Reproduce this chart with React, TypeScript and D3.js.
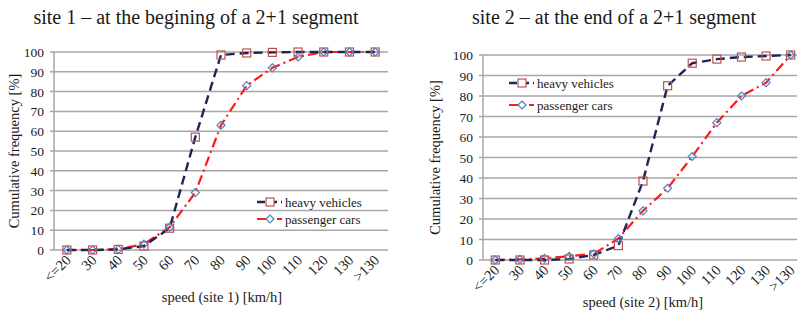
import React from "react";
import * as d3 from "d3";

const categories = ["<=20", "30", "40", "50", "60", "70", "80", "90", "100", "110", "120", "130", ">130"];
const yTicks = [0, 10, 20, 30, 40, 50, 60, 70, 80, 90, 100];

const site1Heavy = [0, 0, 0.3, 2, 11, 57, 98.5, 99.5, 99.8, 100, 100, 100, 100];
const site1Cars = [0, 0, 0.3, 3, 11.5, 29, 63, 83, 92, 97.5, 100, 100, 100];
const site2Heavy = [0, 0, 0, 0.5, 2.5, 7, 38.5, 85, 96, 98, 99, 99.5, 100];
const site2Cars = [0, 0.3, 0.8, 1.8, 3, 10.5, 24, 35, 50.5, 67, 80, 86.5, 100];

const seriesNames = ["heavy vehicles", "passenger cars"];
const titles = ["site 1 – at the begining of a 2+1 segment", "site 2 – at the end of a 2+1 segment"];
const xTitles = ["speed (site 1) [km/h]", "speed (site 2) [km/h]"];
const yTitle = "Cumulative frequency [%]";

const FONT = "Liberation Serif, DejaVu Serif, serif";
const HEAVY = "#1c2557";
const CARS = "#ff1a1a";
const SQ = "#c0504d";
const DIA = "#4f81bd";
const GRID = "#a6a6a6";

type PanelProps = {
  x0: number; x1: number; yTop: number; yBot: number;
  heavy: number[]; cars: number[];
  title: string; titleX: number; titleY: number;
  xTitle: string; xTitleX: number; xTitleY: number;
  yTitleX: number;
  legendX: number; legendY: number; legendGap: number;
};

function Panel(p: PanelProps) {
  const x = d3.scaleBand<string>().domain(categories).range([p.x0, p.x1]);
  const y = d3.scaleLinear().domain([0, 100]).range([p.yBot, p.yTop]);
  const cx = (c: string) => (x(c) ?? 0) + x.bandwidth() / 2;
  const line = d3.line<number>().x((_, i) => cx(categories[i])).y((d) => y(d));
  const sq = 8;
  const diamond = (px: number, py: number) => {
    const r = 4;
    return `M${px},${py - r}L${px + r},${py}L${px},${py + r}L${px - r},${py}Z`;
  };
  const g2 = p.legendY + p.legendGap;
  return (
    <g style={{ fontFamily: FONT }} fill="#1a1a1a">
      <text x={p.titleX} y={p.titleY} fontSize={20} textAnchor="middle">{p.title}</text>
      {yTicks.map((t) => (
        <g key={t}>
          <line x1={p.x0 - 4} x2={p.x1} y1={y(t)} y2={y(t)} stroke={GRID} strokeWidth={1.5} />
          <text x={p.x0 - 10} y={y(t) + 5} fontSize={13.5} textAnchor="end">{t}</text>
        </g>
      ))}
      <line x1={p.x0} x2={p.x0} y1={p.yTop} y2={p.yBot} stroke={GRID} strokeWidth={1.5} />
      {categories.map((c) => (
        <text key={c} fontSize={14.5} textAnchor="end"
          transform={`translate(${cx(c) + 5},${p.yBot + 11}) rotate(-45)`}>{c}</text>
      ))}
      <text x={p.xTitleX} y={p.xTitleY} fontSize={14.5} textAnchor="middle">{p.xTitle}</text>
      <text fontSize={14.5} textAnchor="middle"
        transform={`translate(${p.yTitleX},${(p.yTop + p.yBot) / 2}) rotate(-90)`}>{yTitle}</text>
      <path d={line(p.cars) ?? ""} fill="none" stroke={CARS} strokeWidth={2.2} strokeDasharray="10,4,2,4" />
      <path d={line(p.heavy) ?? ""} fill="none" stroke={HEAVY} strokeWidth={2.4} strokeDasharray="9,5" />
      {p.heavy.map((v, i) => (
        <rect key={"h" + i} x={cx(categories[i]) - sq / 2} y={y(v) - sq / 2} width={sq} height={sq}
          fill="none" stroke={SQ} strokeWidth={1.2} />
      ))}
      {p.cars.map((v, i) => (
        <path key={"c" + i} d={diamond(cx(categories[i]), y(v))} fill="none" stroke={DIA} strokeWidth={1.2} />
      ))}
      <g>
        <line x1={p.legendX} x2={p.legendX + 25} y1={p.legendY} y2={p.legendY} stroke={HEAVY} strokeWidth={2.4} strokeDasharray="8,4" />
        <rect x={p.legendX + 13 - sq / 2} y={p.legendY - sq / 2} width={sq} height={sq} fill="white" stroke={SQ} strokeWidth={1.2} />
        <text x={p.legendX + 28} y={p.legendY + 4.5} fontSize={13}>{seriesNames[0]}</text>
        <line x1={p.legendX} x2={p.legendX + 25} y1={g2} y2={g2} stroke={CARS} strokeWidth={2.2} strokeDasharray="10,4,2,4" />
        <path d={diamond(p.legendX + 13, g2)} fill="white" stroke={DIA} strokeWidth={1.2} />
        <text x={p.legendX + 28} y={g2 + 4.5} fontSize={13}>{seriesNames[1]}</text>
      </g>
    </g>
  );
}

export default function App() {
  return (
    <svg width={797} height={312} style={{ position: "absolute", left: 0, top: 0, background: "white" }}>
      <rect width={797} height={312} fill="white" />
      <Panel x0={54} x1={388} yTop={52} yBot={250} heavy={site1Heavy} cars={site1Cars}
        title={titles[0]} titleX={196} titleY={24}
        xTitle={xTitles[0]} xTitleX={222} xTitleY={302} yTitleX={19}
        legendX={257} legendY={202} legendGap={17} />
      <Panel x0={483} x1={803} yTop={55} yBot={260} heavy={site2Heavy} cars={site2Cars}
        title={titles[1]} titleX={614} titleY={24}
        xTitle={xTitles[1]} xTitleX={643} xTitleY={307} yTitleX={440}
        legendX={509} legendY={83} legendGap={22} />
    </svg>
  );
}
